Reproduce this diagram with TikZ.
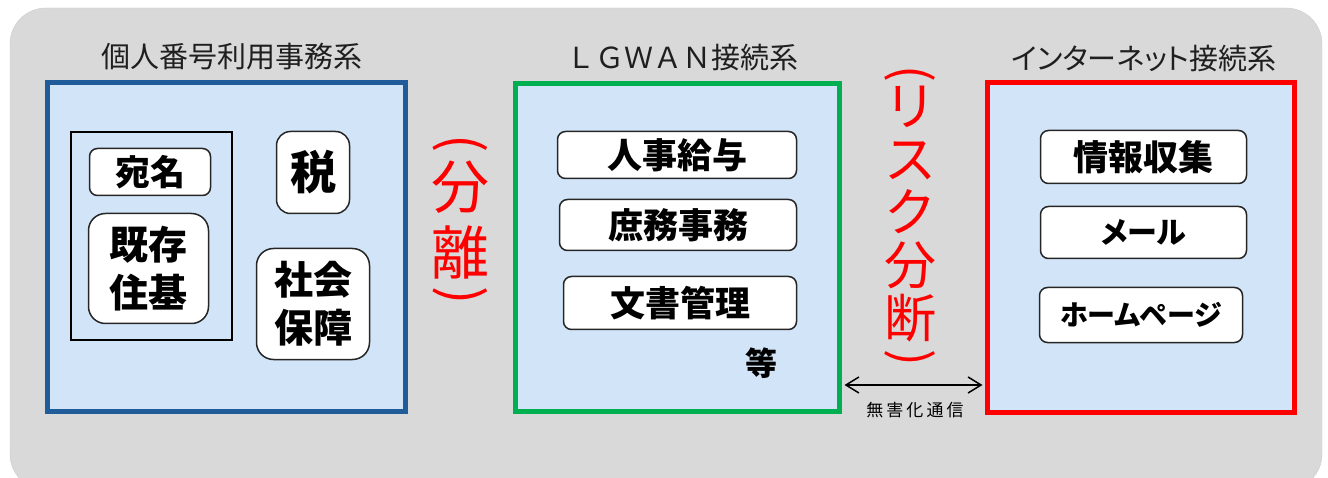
\documentclass[tikz,border=0pt]{standalone}
\usepackage{fontspec}
\setmainfont{Noto Sans CJK JP}
\newfontfamily\paltfont{Noto Sans CJK JP}[RawFeature=+palt]
\usetikzlibrary{arrows.meta}
\definecolor{bggray}{HTML}{D9D9D9}
\definecolor{paneblue}{HTML}{D2E5F8}
\definecolor{mynoblue}{HTML}{1F5C99}
\definecolor{lgwgreen}{HTML}{00B050}
\definecolor{inetred}{HTML}{FF0000}

\begin{document}
\begin{tikzpicture}[x=1pt,y=-1pt,>={Straight Barb[length=13pt,width=16pt]},
        frame/.style={fill=paneblue,line width=5pt,inner sep=0pt},
        title/.style={text=black!88,font=\fontsize{29}{34}\selectfont},
        jobbox/.style={draw=black!85,fill=white,rounded corners=8pt,line width=1.5pt,
                       inner sep=0pt,font=\bfseries\fontsize{35}{42}\selectfont},
        tallbox/.style={jobbox,rounded corners=17pt,align=center,
                       font=\bfseries\fontsize{39}{48}\selectfont},
        redtext/.style={text=inetred,align=center,inner sep=0pt},
        paren/.style={redtext,font=\fontsize{54}{60}\selectfont}]
    \useasboundingbox (0,0) rectangle (1328,478);
    % Background
    \fill[bggray,draw=black!20,rounded corners=36pt] (10,8) rectangle (1322,490);

    % Frames
    \node[frame,draw=mynoblue,minimum width=358pt,minimum height=329pt] (mynum) at (226.5,247) {};
    \node[frame,draw=lgwgreen,minimum width=324pt,minimum height=328pt] (lgwan) at (677.5,247.5) {};
    \node[frame,draw=inetred,minimum width=307pt,minimum height=330pt] (inet) at (1141,247.5) {};

    % Titles
    \node[title] (t mynum) at (232,57) {個人番号利用事務系};
    \node[title] (t lgwan) at (682,57) {ＬＧＷＡＮ接続系};
    \node[title,font=\paltfont\fontsize{29}{34}\selectfont] (t inet) at (1144,58) {インターネット接続系};

    % Kojin bangou riyou jimu kei
    \node[draw=black,line width=2pt,minimum width=161pt,minimum height=208pt] (juki) at (151.5,236) {};
    \node[jobbox,minimum width=121pt,minimum height=47pt] (atena) at (150,172) {宛名};
    \node[tallbox,minimum width=120pt,minimum height=110pt] (kizon) at (148.5,268.5) {既存\\住基};
    \node[tallbox,rounded corners=14pt,minimum width=73pt,minimum height=82pt,
          font=\bfseries\fontsize{46}{50}\selectfont] (zei) at (313,172.5) {税};
    \node[tallbox,minimum width=113pt,minimum height=111pt] (shakai) at (313,304) {社会\\保障};

    % LGWAN
    \node[jobbox,minimum width=239pt,minimum height=47pt] (jinji) at (677,155) {人事給与};
    \node[jobbox,minimum width=237pt,minimum height=51pt] (shomu) at (678,225) {庶務事務};
    \node[jobbox,minimum width=233pt,minimum height=53pt] (bunsho) at (680,303) {文書管理};
    \node[font=\bfseries\fontsize{32}{36}\selectfont] (tou) at (761,363) {等};

    % Internet
    \node[jobbox,minimum width=206pt,minimum height=53pt] (joho) at (1143.5,157) {情報収集};
    \node[jobbox,minimum width=206pt,minimum height=52pt,
          font=\paltfont\bfseries\fontsize{30}{42}\selectfont] (mail) at (1143.5,232.5) {メール};
    \node[jobbox,minimum width=203pt,minimum height=55pt,
          font=\paltfont\bfseries\fontsize{28}{42}\selectfont] (hp) at (1141,315) {ホームページ};

    % Separation labels
    \node[redtext,font=\fontsize{58}{66}\selectfont] (bunri) at (460,220) {分\\離};
    \node[paren] (bunri open) at (460,144) {\rotatebox{-90}{(}};
    \node[paren] (bunri close) at (460,296) {\rotatebox{-90}{)}};
    \node[redtext,font=\fontsize{52}{53}\selectfont] (risk) at (910,214) {リ\\ス\\ク\\分\\断};
    \node[paren,font=\fontsize{50}{56}\selectfont] (risk open) at (910,74) {\rotatebox{-90}{(}};
    \node[paren,font=\fontsize{50}{56}\selectfont] (risk close) at (910,358) {\rotatebox{-90}{)}};

    % Connection
    \node[font=\fontsize{17}{20}\selectfont\addfontfeatures{LetterSpace=18}] (mugai) at (915,410) {無害化通信};
    \coordinate (arr) at (915,385);
    \draw[<->,line width=1.5pt,shorten <=2.5pt,shorten >=2.5pt] (lgwan.east |- arr) -- (inet.west |- arr);
\end{tikzpicture}
\end{document}
